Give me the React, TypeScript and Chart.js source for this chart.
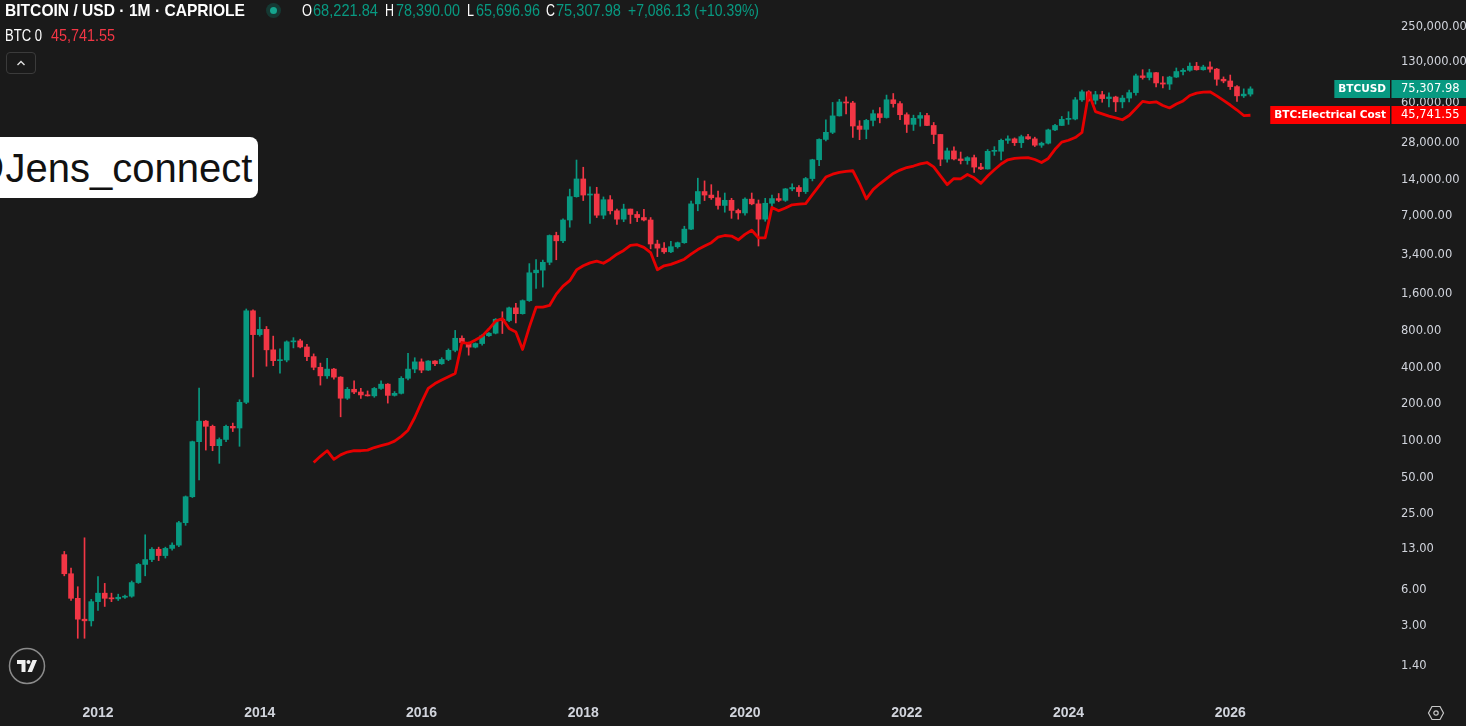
import React, { useEffect, useLayoutEffect, useRef } from "react";
import { Chart, registerables } from "chart.js";

Chart.register(...registerables);

// ---------------- DATA ----------------
const firstCandleMonth = "2011-08";

const candleOpen = [
  11.2, 7.8, 4.9, 3.3, 3.2,
  4.6, 5.4, 4.9, 4.85, 5.0, 5.1, 6.6, 9.3, 10.2, 12.4, 11.0, 12.6,
  13.4, 20.5, 33.5, 95, 140, 127, 88, 99, 127, 123, 200, 1130,
  720, 795, 540, 440, 445, 628, 640, 570, 475, 388, 330, 375,
  322, 216, 256, 243, 230, 226, 260, 282, 228, 237, 315, 375,
  430, 368, 437, 415, 450, 535, 672, 620, 568, 608, 705, 740,
  963, 940, 1195, 1070, 1370, 2320, 2440, 2830, 4700, 4250, 6300, 9800,
  13700, 10100, 10300, 6900, 9250, 7500, 6400, 7750, 7000, 6600, 6300, 4000,
  3700, 3450, 3800, 4100, 5300, 8550, 10800, 10100, 9600, 8300, 9150, 7550,
  7200, 9350, 8550, 6400, 8650, 9450, 9140, 11350, 11650, 10780, 13800, 19700,
  28950, 33100, 45200, 58800, 57700, 37300, 35000, 41500, 47100, 43800, 61300, 57000,
  46200, 38500, 43200, 45500, 37700, 31800, 19900, 23300, 20000, 19400, 20500, 17150,
  16550, 23100, 23150, 28450, 29250, 27200, 30500, 29250, 25950, 26950, 34650, 37700,
  42300, 42600, 61200, 71300, 60700, 67500, 62700, 64600, 58900, 63300, 70200, 96400,
  93400, 102400, 84300, 82500, 94200, 104600, 107100, 115700, 108200, 114000, 109500, 90400,
  87500, 78600, 66000, 68221.84,
];

const candleHigh = [
  11.9, 8.7, 6.1, 15.4, 4.8,
  7.4, 6.5, 5.4, 5.3, 5.2, 6.8, 9.5, 16.3, 12.8, 12.9, 12.9, 14.0,
  21, 34, 96, 262, 142, 130, 102, 130, 135, 210, 1170, 1150,
  1000, 840, 700, 550, 640, 680, 660, 600, 500, 420, 460, 380,
  325, 265, 300, 260, 248, 265, 300, 285, 245, 325, 506, 465,
  455, 440, 440, 465, 550, 780, 705, 625, 615, 720, 750, 975,
  1110, 1210, 1300, 1390, 2760, 2980, 2950, 4750, 5000, 6450, 11300, 19600,
  17100, 11800, 11700, 9750, 10000, 7750, 8500, 7750, 7400, 7700, 6600, 4300,
  4100, 4200, 4150, 5600, 9000, 13900, 13200, 12300, 10900, 10500, 9500, 7750,
  9600, 10500, 9200, 9500, 10100, 10400, 11450, 12500, 12100, 14100, 19900, 29300,
  41900, 58300, 61800, 64900, 59600, 41300, 42300, 50500, 52900, 67000, 69000, 59100,
  47900, 45800, 48200, 47400, 39900, 31900, 24600, 25200, 22800, 20900, 21500, 18400,
  23900, 25250, 29200, 31000, 29800, 31400, 31800, 30200, 27500, 35200, 38500, 44700,
  48900, 64000, 73800, 72800, 71900, 72000, 70000, 65600, 66500, 73600, 99600, 108300,
  109300, 102800, 95000, 95700, 111900, 110500, 123200, 124400, 117900, 125500, 111000, 94500,
  97900, 80000, 75400, 78390,
];

const candleLow = [
  7.5, 4.7, 2.3, 2.3, 2.9,
  3.9, 4.2, 4.6, 4.7, 4.9, 5.0, 6.5, 7.5, 9.8, 10.0, 10.5, 12.2,
  13.0, 19.5, 33, 46, 81, 80, 63, 95, 115, 87, 195, 324,
  700, 396, 400, 347, 430, 560, 560, 440, 370, 277, 315, 310,
  152, 211, 235, 215, 225, 220, 255, 197, 225, 234, 305, 350,
  350, 365, 400, 410, 440, 520, 610, 488, 560, 590, 695, 730,
  735, 920, 900, 1060, 1350, 1730, 1770, 2700, 2970, 4100, 5500, 9700,
  9100, 5900, 6600, 6450, 7050, 5800, 6100, 5900, 6100, 6200, 3650, 3150,
  3350, 3400, 3700, 4050, 5250, 7500, 9100, 9300, 7750, 7300, 6500, 6400,
  6900, 8400, 3850, 6150, 8100, 8900, 8950, 10950, 9850, 10400, 13200, 17600,
  28100, 32300, 45000, 47000, 30000, 28800, 29300, 37300, 39600, 43300, 53300, 42000,
  33000, 34300, 37200, 37600, 26700, 17600, 18800, 19600, 18200, 18100, 15500, 16300,
  16500, 21400, 19600, 26900, 25800, 24800, 28900, 25300, 24900, 26550, 34100, 37600,
  38500, 41900, 59300, 59600, 56500, 58500, 53500, 49000, 52600, 58900, 66800, 90500,
  89200, 78200, 76600, 74400, 93400, 98200, 105100, 107300, 107300, 103500, 80600, 84500,
  74500, 59500, 64000, 65696.96,
];

const candleClose = [
  7.8, 4.9, 3.3, 3.2, 4.6,
  5.4, 4.9, 4.85, 5.0, 5.1, 6.6, 9.3, 10.2, 12.4, 11.0, 12.6, 13.4,
  20.5, 33.5, 95, 140, 127, 88, 99, 127, 123, 200, 1130, 720,
  795, 540, 440, 445, 628, 640, 570, 475, 388, 330, 375, 322,
  216, 256, 243, 230, 226, 260, 282, 228, 237, 315, 375, 430,
  368, 437, 415, 450, 535, 672, 620, 568, 608, 705, 740, 963,
  940, 1195, 1070, 1370, 2320, 2440, 2830, 4700, 4250, 6300, 9800, 13700,
  10100, 10300, 6900, 9250, 7500, 6400, 7750, 7000, 6600, 6300, 4000, 3700,
  3450, 3800, 4100, 5300, 8550, 10800, 10100, 9600, 8300, 9150, 7550, 7200,
  9350, 8550, 6400, 8650, 9450, 9140, 11350, 11650, 10780, 13800, 19700, 28950,
  33100, 45200, 58800, 57700, 37300, 35000, 41500, 47100, 43800, 61300, 57000, 46200,
  38500, 43200, 45500, 37700, 31800, 19900, 23300, 20000, 19400, 20500, 17150, 16550,
  23100, 23150, 28450, 29250, 27200, 30500, 29250, 25950, 26950, 34650, 37700, 42300,
  42600, 61200, 71300, 60700, 67500, 62700, 64600, 58900, 63300, 70200, 96400, 93400,
  102400, 84300, 82500, 94200, 104600, 107100, 115700, 108200, 114000, 109500, 90400, 87500,
  78600, 66000, 68221.84, 75307.98,
];

const firstCostMonth = "2014-09";

const electricalCost = [
  64, 72, 80, 68,
  74, 78, 80, 80, 81, 85, 88, 91, 96, 105, 118, 150,
  200, 260, 285, 305, 325, 345, 620, 609, 650, 700, 800, 930,
  975, 808, 757, 544, 830, 1210, 1210, 1250, 1550, 1800, 2000, 2450,
  2650, 2800, 2890, 2780, 3000, 3300, 3540, 3900, 3950, 3750, 3400, 2460,
  2650, 2720, 2850, 3000, 3300, 3600, 3850, 4100, 4550, 4700, 4650, 4330,
  4800, 5190, 4500, 4500, 8000, 7500, 7900, 8400, 8500, 8600, 10200, 12000,
  14200, 15000, 15500, 15800, 16000, 12500, 9400, 11200, 12500, 13800, 15200, 16200,
  17000, 17500, 18200, 18700, 17200, 14500, 12300, 13800, 13700, 14900, 14000, 12600,
  14500, 16300, 18200, 19700, 20200, 20400, 20500, 19800, 18700, 20200, 24000, 27500,
  28500, 30000, 33000, 70000, 49000, 47000, 45000, 43500, 42000, 45500, 52000, 59500,
  58000, 59000, 55000, 52500, 56500, 60000, 66500, 69500, 70800, 71300, 66000, 60500,
  55500, 50500, 45500, 45741.55,
];

const priceTicks = [1.4, 3, 6, 13, 25, 50, 100, 200, 400, 800, 1600, 3400, 7000, 14000, 28000, 60000, 130000, 250000];
const yearTicks = [2012, 2014, 2016, 2018, 2020, 2022, 2024, 2026];

// ---------------- HELPERS ----------------
const UP = "#089981";
const DOWN = "#f23645";
const BG = "#1a1a1a";

function monthIndex(ym: string) {
  const [y, m] = ym.split("-").map(Number);
  return (y - 2012) * 12 + (m - 1);
}
function fmt(v: number) {
  return v.toLocaleString("en-US", { minimumFractionDigits: 2, maximumFractionDigits: 2 });
}

const labelPlugin = {
  id: "lastValueLabels",
  afterDraw(chart: any) {
    const ctx = chart.ctx;
    const ys = chart.scales.y;
    const area = chart.chartArea;
    const items = [
      { name: "BTCUSD", value: candleClose[candleClose.length - 1], color: UP },
      { name: "BTC:Electrical Cost", value: electricalCost[electricalCost.length - 1], color: "#ff0000" },
    ];
    ctx.save();
    items.forEach((it) => {
      const y = Math.round(ys.getPixelForValue(it.value));
      const h = 18;
      ctx.fillStyle = it.color;
      ctx.fillRect(area.right - 0.5, y - h / 2, chart.width - area.right + 1, h);
      ctx.font = '11.5px "DejaVu Sans"';
      ctx.textBaseline = "middle";
      ctx.textAlign = "left";
      ctx.fillStyle = "#ffffff";
      ctx.fillText(fmt(it.value), area.right + 9, y + 0.5);
      ctx.font = 'bold 10.5px "DejaVu Sans"';
      const w = ctx.measureText(it.name).width + 8;
      ctx.fillStyle = it.color;
      ctx.fillRect(area.right - 2 - w, y - h / 2, w, h);
      ctx.fillStyle = "#ffffff";
      ctx.fillText(it.name, area.right - 2 - w + 4, y + 0.5);
    });
    ctx.restore();
  },
};

function FitText(props: { text: string; left: number; cy: number; width: number; size: number; color: string; weight?: number; family?: string }) {
  const ref = useRef<HTMLSpanElement>(null);
  useLayoutEffect(() => {
    const el = ref.current;
    if (!el) return;
    el.style.transform = "none";
    const w = el.getBoundingClientRect().width;
    if (w > 0) el.style.transform = `scaleX(${props.width / w})`;
  }, [props.text, props.width]);
  return (
    <span
      ref={ref}
      style={{
        position: "absolute",
        left: props.left,
        top: props.cy - props.size / 2,
        lineHeight: `${props.size}px`,
        fontSize: props.size,
        fontFamily: props.family || '"Liberation Sans", Arial, sans-serif',
        fontWeight: props.weight || 400,
        color: props.color,
        whiteSpace: "nowrap",
        transformOrigin: "0 50%",
      }}
    >
      {props.text}
    </span>
  );
}

export default function App() {
  const canvasRef = useRef<HTMLCanvasElement>(null);

  useEffect(() => {
    document.body.style.margin = "0";
    document.body.style.background = BG;
    const canvas = canvasRef.current;
    if (!canvas) return;

    const c0 = monthIndex(firstCandleMonth);
    const l0 = monthIndex(firstCostMonth);
    const colors = candleOpen.map((o, i) => (candleClose[i] >= o ? UP : DOWN));
    const wickData = candleOpen.map((_, i) => ({ x: c0 + i, y: [candleLow[i], candleHigh[i]] }));
    const bodyData = candleOpen.map((o, i) => ({ x: c0 + i, y: [o, candleClose[i]] }));
    const costData = electricalCost.map((v, i) => ({ x: l0 + i, y: v }));

    const chart = new Chart(canvas, {
      type: "bar",
      data: {
        datasets: [
          {
            type: "line",
            data: costData as any,
            borderColor: "#e60000",
            borderWidth: 2.8,
            pointRadius: 0,
            tension: 0,
            borderJoinStyle: "round",
            order: 1,
          } as any,
          {
            type: "bar",
            data: bodyData as any,
            backgroundColor: colors,
            borderWidth: 0,
            barThickness: 5,
            minBarLength: 1,
            grouped: false,
            order: 2,
          } as any,
          {
            type: "bar",
            data: wickData as any,
            backgroundColor: colors,
            borderWidth: 0,
            barThickness: 1,
            grouped: false,
            order: 3,
          } as any,
        ],
      },
      options: {
        animation: false,
        responsive: false,
        devicePixelRatio: 1,
        layout: { padding: 0 },
        plugins: { legend: { display: false }, tooltip: { enabled: false } },
        scales: {
          x: {
            type: "linear",
            min: -14.54,
            max: 192.0,
            offset: false,
            grid: { display: false, drawTicks: false },
            border: { display: false },
            afterBuildTicks: (s: any) => {
              s.ticks = yearTicks.map((y) => ({ value: (y - 2012) * 12 }));
            },
            afterFit: (s: any) => {
              s.height = 29;
              s.paddingLeft = 0;
              s.paddingRight = 0;
            },
            ticks: {
              color: "#d1d4dc",
              font: { family: '"Liberation Sans"', size: 14, weight: "bold" },
              padding: 8,
              maxRotation: 0,
              autoSkip: false,
              callback: (v: any) => String(2012 + Math.round(Number(v) / 12)),
            },
          },
          y: {
            type: "logarithmic",
            position: "right",
            min: 0.757,
            max: 405000,
            grid: { display: false, drawTicks: false },
            border: { display: false },
            afterBuildTicks: (s: any) => {
              s.ticks = priceTicks.map((v) => ({ value: v }));
            },
            afterFit: (s: any) => {
              s.width = 74;
              s.paddingTop = 0;
              s.paddingBottom = 0;
            },
            ticks: {
              color: "#d1d4dc",
              font: { family: '"DejaVu Sans"', size: 11.5 },
              padding: 9,
              labelOffset: 2,
              crossAlign: "near",
              autoSkip: false,
              callback: (v: any) => fmt(Number(v)),
            },
          },
        },
      } as any,
      plugins: [labelPlugin as any],
    });
    return () => chart.destroy();
  }, []);

  return (
    <div style={{ position: "relative", width: 1466, height: 726, background: BG, overflow: "hidden" }}>
      <canvas ref={canvasRef} width={1466} height={726} style={{ position: "absolute", left: 0, top: 0 }} />

      {/* header row 1 */}
      <FitText text="BITCOIN / USD · 1M · CAPRIOLE" left={5} cy={10} width={240} size={17} color="#ffffff" weight={700} />
      <div style={{ position: "absolute", left: 266, top: 3, width: 15, height: 15, borderRadius: 8, background: "rgba(8,153,129,0.25)" }} />
      <div style={{ position: "absolute", left: 270, top: 7, width: 7, height: 7, borderRadius: 4, background: "#15a58e" }} />
      <FitText text="O" left={302} cy={10} width={10} size={17} color="#ffffff" />
      <FitText text="68,221.84" left={313} cy={10} width={65} size={17} color={UP} />
      <FitText text="H" left={385} cy={10} width={9} size={17} color="#ffffff" />
      <FitText text="78,390.00" left={396} cy={10} width={64} size={17} color={UP} />
      <FitText text="L" left={467} cy={10} width={7} size={17} color="#ffffff" />
      <FitText text="65,696.96" left={476} cy={10} width={64} size={17} color={UP} />
      <FitText text="C" left={546} cy={10} width={9} size={17} color="#ffffff" />
      <FitText text="75,307.98" left={556} cy={10} width={65} size={17} color={UP} />
      <FitText text="+7,086.13 (+10.39%)" left={628} cy={10} width={131} size={17} color={UP} />

      {/* header row 2 */}
      <FitText text="BTC 0" left={5} cy={36} width={37} size={16} color="#ffffff" />
      <FitText text="45,741.55" left={51} cy={36} width={64} size={16} color="#f23645" />

      {/* collapse button */}
      <div
        style={{
          position: "absolute",
          left: 6,
          top: 52,
          width: 30,
          height: 22,
          border: "1px solid #3b3b3b",
          borderRadius: 4,
          boxSizing: "border-box",
        }}
      >
        <svg width="28" height="20" style={{ position: "absolute", left: 0, top: 0 }}>
          <polyline points="10.5,12 14,8.5 17.5,12" fill="none" stroke="#e0e0e0" strokeWidth="1.4" />
        </svg>
      </div>

      {/* watermark */}
      <div
        style={{
          position: "absolute",
          left: -50,
          top: 137,
          width: 308,
          height: 61,
          background: "#ffffff",
          borderRadius: 8,
        }}
      />
      <span
        style={{
          position: "absolute",
          left: -35,
          top: 145,
          fontSize: 40,
          lineHeight: "46px",
          fontFamily: '"Liberation Sans", Arial, sans-serif',
          color: "#111111",
          whiteSpace: "nowrap",
        }}
      >
        @Jens_connect
      </span>

      {/* TradingView logo */}
      <svg width="40" height="40" style={{ position: "absolute", left: 7, top: 646 }}>
        <circle cx="20" cy="20" r="17.5" fill="#1a1a1a" stroke="#8a8a8a" strokeWidth="1.5" />
        <path d="M10 14 H18.5 V26 H14.5 V18 H10 Z" fill="#f0f0f0" />
        <circle cx="21.5" cy="16" r="2" fill="#f0f0f0" />
        <path d="M25.5 14 H30 L25 26 H20.5 Z" fill="#f0f0f0" />
      </svg>

      {/* settings icon */}
      <svg width="18" height="18" style={{ position: "absolute", left: 1427, top: 704 }}>
        <polygon points="5,2.5 13,2.5 16.5,9 13,15.5 5,15.5 1.5,9" fill="none" stroke="#c8c8c8" strokeWidth="1.2" />
        <circle cx="9" cy="9" r="2.2" fill="none" stroke="#c8c8c8" strokeWidth="1.2" />
      </svg>
    </div>
  );
}
